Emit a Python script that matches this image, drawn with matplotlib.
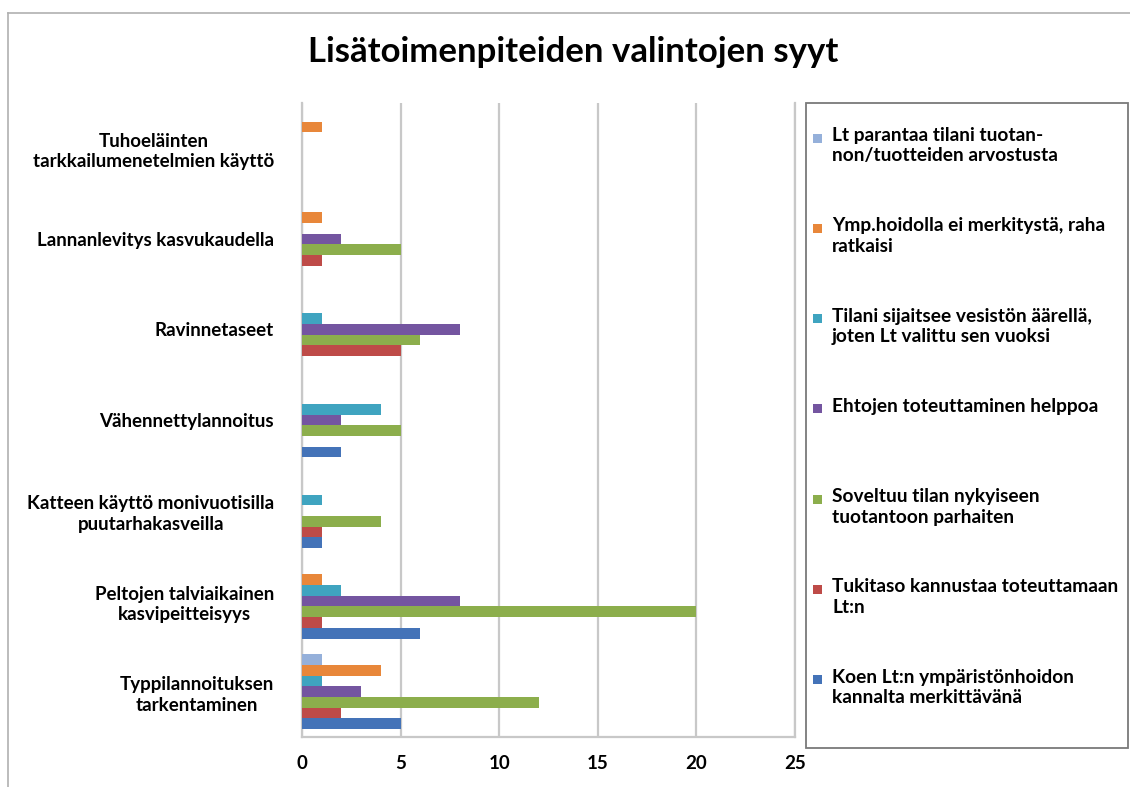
import numpy as np
from matplotlib import pyplot as plt
from matplotlib.patches import Rectangle
from matplotlib.lines import Line2D

plt.rcParams["font.family"] = ["Lato", "DejaVu Sans"]
plt.rcParams["font.weight"] = "bold"

categories = ["Typpilannoituksen\ntarkentaminen",
              "Peltojen talviaikainen\nkasvipeitteisyys",
              "Katteen käyttö monivuotisilla\npuutarhakasveilla",
              "Vähennettylannoitus",
              "Ravinnetaseet",
              "Lannanlevitys kasvukaudella",
              "Tuhoeläinten\ntarkkailumenetelmien käyttö"]

# series, listed from bottom bar to top bar within each group
koen = [5, 6, 1, 2, 0, 0, 0]
tukitaso = [2, 1, 1, 0, 5, 1, 0]
soveltuu = [12, 20, 4, 5, 6, 5, 0]
ehtojen = [3, 8, 0, 2, 8, 2, 0]
tilani = [1, 2, 1, 4, 1, 0, 0]
ymp = [4, 1, 0, 0, 0, 1, 1]
lt_parantaa = [1, 0, 0, 0, 0, 0, 0]

series = [koen, tukitaso, soveltuu, ehtojen, tilani, ymp, lt_parantaa]
labels = ["Koen Lt:n ympäristönhoidon\nkannalta merkittävänä",
          "Tukitaso kannustaa toteuttamaan\nLt:n",
          "Soveltuu tilan nykyiseen\ntuotantoon parhaiten",
          "Ehtojen toteuttaminen helppoa",
          "Tilani sijaitsee vesistön äärellä,\njoten Lt valittu sen vuoksi",
          "Ymp.hoidolla ei merkitystä, raha\nratkaisi",
          "Lt parantaa tilani tuotan-\nnon/tuotteiden arvostusta"]
colors = ["#4473B8", "#BE4B48", "#8CAE4C", "#7455A0", "#3FA4C0", "#E8873A", "#95B0DA"]

W, H = 1130, 787
fig = plt.figure(figsize=(W / 100, H / 100), dpi=100)
ax = fig.add_axes([302 / W, 1 - 737 / H, 493 / W, 634 / H])

y = np.arange(len(categories))
bh = 0.118
for i, (vals, c) in enumerate(zip(series, colors)):
    offs = (i - 3) * bh
    ax.barh(y + offs, vals, height=bh, color=c, linewidth=0, zorder=3)

ax.set_xlim(0, 25)
ax.set_ylim(-0.5, len(categories) - 0.5)
ax.set_xticks([0, 5, 10, 15, 20, 25])
ax.set_yticks(y)
ax.set_yticklabels(categories)
ax.tick_params(length=0, labelsize=13.5)
ax.tick_params(axis="x", pad=13)
ax.tick_params(axis="y", pad=20)
for t in ax.get_yticklabels():
    t.set_multialignment("center")
    t.set_linespacing(1.25)
ax.grid(axis="x", color="#c8c8c8", linewidth=1.6, zorder=0)
ax.spines["top"].set_visible(False)
for s in ["left", "bottom", "right"]:
    ax.spines[s].set_color("#c8c8c8")
    ax.spines[s].set_linewidth(1.6)

fig.text(573 / W, 1 - 52 / H, "Lisätoimenpiteiden valintojen syyt",
         ha="center", va="center", fontsize=25, fontweight="bold")

# outer frame (left and top visible)
fig.add_artist(Line2D([8 / W, 8 / W], [0, 1 - 13 / H], color="#b0b0b0", lw=1.2))
fig.add_artist(Line2D([8 / W, 1], [1 - 13 / H, 1 - 13 / H], color="#b0b0b0", lw=1.2))

# legend box
fig.add_artist(Rectangle((806 / W, 1 - 748 / H), 322 / W, 645 / H, transform=fig.transFigure,
                         facecolor="white", edgecolor="#7a7a7a", lw=1.3))
for k in range(len(labels)):
    idx = len(labels) - 1 - k
    yc = 138 + k * 90.3
    fig.add_artist(Rectangle((813 / W, 1 - (yc + 4.5) / H), 9 / W, 9 / H, transform=fig.transFigure,
                             facecolor=colors[idx], edgecolor="none"))
    fig.text(832 / W, 1 - (yc - 11) / H, labels[idx], ha="left", va="top",
             fontsize=13.8, fontweight="bold", linespacing=1.25)

fig.savefig("out.png", dpi=100)
